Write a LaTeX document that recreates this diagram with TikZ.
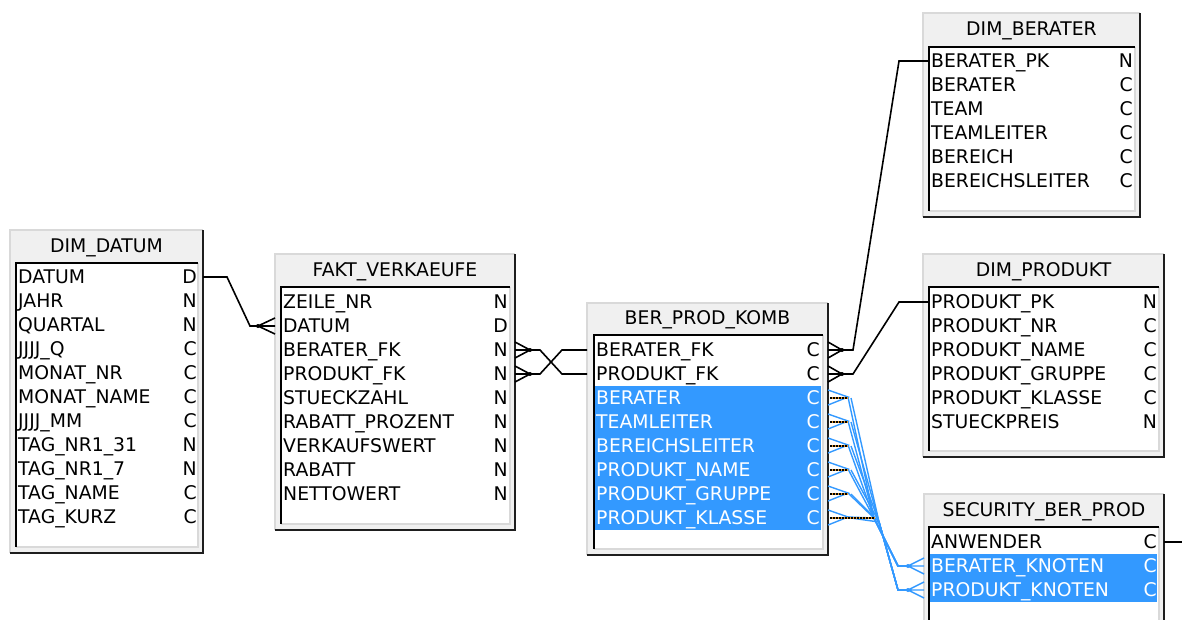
\documentclass[tikz,border=0pt]{standalone}
\usepackage{fontspec}
\setmainfont{DejaVu Sans}
\usetikzlibrary{calc}
\definecolor{hdr}{HTML}{F0F0F0}
\definecolor{lite}{HTML}{D9D9D9}
\definecolor{darkb}{HTML}{1E1E1E}
\definecolor{hl}{HTML}{3399FF}
\definecolor{selor}{HTML}{E89A2C}
\newcommand\tblframe[6]{%
  \fill[hdr] (#1,#2) rectangle (#3,#4);
  \draw[lite,line width=1.2pt] (#3,#2)--(#1,#2)--(#1,#4);
  \draw[darkb,line width=2pt] (#3,#2)--(#3,#4)--(#1,#4);
  \fill[white] (#5,#6) rectangle (#3-5,#4-6);
  \draw[lite,line width=1.2pt] (#3-5,#6)--(#3-5,#4-6)--(#5,#4-6);
  \draw[black,line width=2pt] (#3-5,#6)--(#5,#6)--(#5,#4-6);
}
\tikzset{
  rowtxt/.style={anchor=base west,inner sep=0pt,text=black},
  typetxt/.style={anchor=base east,inner sep=0pt,text=black},
  hltxt/.style={text=white},
  titletxt/.style={anchor=base,inner sep=0pt,text=black},
  conn/.style={draw=black,line width=1.6pt},
  bconn/.style={draw=hl,line width=1.4pt},
  seldot/.style={draw=selor,line width=1.8pt},
  seldash/.style={draw=black,line width=1.8pt,dash pattern=on 1.5pt off 1.5pt},
}
\begin{document}
\begin{tikzpicture}[x=1pt,y=-1pt,font=\fontsize{18.8}{21}\selectfont]
\useasboundingbox (0,0) rectangle (1182,619);
\fill[white] (0,0) rectangle (1182,619);
\clip (0,0) rectangle (1182,619);

% ---------------- DIM_DATUM
\tblframe{10}{230}{203}{553}{16}{263}
\node[titletxt] (dd-title) at (106.5,252.5) {DIM\_DATUM};
\foreach \t/\c [count=\i from 0] in {DATUM/D,JAHR/N,QUARTAL/N,JJJJ\_Q/C,MONAT\_NR/C,MONAT\_NAME/C,JJJJ\_MM/C,TAG\_NR1\_31/N,TAG\_NR1\_7/N,TAG\_NAME/C,TAG\_KURZ/C}{
  \node[rowtxt] (dd-\i) at (18,{283.5+24*\i}) {\t};
  \node[typetxt] (ddt-\i) at (197,{283.5+24*\i}) {\c};
}
\coordinate (ddR-0) at (203,277);

% ---------------- FAKT_VERKAEUFE
\tblframe{275}{254}{515}{530}{281}{287}
\node[titletxt] (fv-title) at (395,276.5) {FAKT\_VERKAEUFE};
\foreach \t/\c [count=\i from 0] in {ZEILE\_NR/N,DATUM/D,BERATER\_FK/N,PRODUKT\_FK/N,STUECKZAHL/N,RABATT\_PROZENT/N,VERKAUFSWERT/N,RABATT/N,NETTOWERT/N}{
  \node[rowtxt] (fv-\i) at (283,{308.5+24*\i}) {\t};
  \node[typetxt] (fvt-\i) at (508,{308.5+24*\i}) {\c};
}
\coordinate (fvL-1) at (275,326);
\coordinate (fvR-2) at (515,350);
\coordinate (fvR-3) at (515,374);

% ---------------- BER_PROD_KOMB
\tblframe{587}{303}{828}{555}{594}{335}
\fill[hl] (595,386) rectangle (821,530);
\node[titletxt] (bp-title) at (707.5,324.5) {BER\_PROD\_KOMB};
\foreach \t/\c [count=\i from 0] in {BERATER\_FK/C,PRODUKT\_FK/C}{
  \node[rowtxt] (bp-\i) at (596,{356.5+24*\i}) {\t};
  \node[typetxt] (bpt-\i) at (820,{356.5+24*\i}) {\c};
}
\foreach \t/\c [count=\i from 2] in {BERATER/C,TEAMLEITER/C,BEREICHSLEITER/C,PRODUKT\_NAME/C,PRODUKT\_GRUPPE/C,PRODUKT\_KLASSE/C}{
  \node[rowtxt,hltxt] (bp-\i) at (596,{356.5+24*\i}) {\t};
  \node[typetxt,hltxt] (bpt-\i) at (820,{356.5+24*\i}) {\c};
}
\coordinate (bpL-0) at (587,350);
\coordinate (bpL-1) at (587,374);
\coordinate (bpR-0) at (828,350);
\coordinate (bpR-1) at (828,374);

% ---------------- DIM_BERATER
\tblframe{923}{13}{1140}{217}{929}{47}
\node[titletxt] (db-title) at (1031.5,35.5) {DIM\_BERATER};
\foreach \t/\c [count=\i from 0] in {BERATER\_PK/N,BERATER/C,TEAM/C,TEAMLEITER/C,BEREICH/C,BEREICHSLEITER/C}{
  \node[rowtxt] (db-\i) at (931,{67.5+24*\i}) {\t};
  \node[typetxt] (dbt-\i) at (1133,{67.5+24*\i}) {\c};
}
\coordinate (dbL-0) at (929,61);

% ---------------- DIM_PRODUKT
\tblframe{923}{254}{1164}{457}{929}{287}
\node[titletxt] (dp-title) at (1043.5,276.5) {DIM\_PRODUKT};
\foreach \t/\c [count=\i from 0] in {PRODUKT\_PK/N,PRODUKT\_NR/C,PRODUKT\_NAME/C,PRODUKT\_GRUPPE/C,PRODUKT\_KLASSE/C,STUECKPREIS/N}{
  \node[rowtxt] (dp-\i) at (931,{308.5+24*\i}) {\t};
  \node[typetxt] (dpt-\i) at (1157,{308.5+24*\i}) {\c};
}
\coordinate (dpL-0) at (929,302);

% ---------------- SECURITY_BER_PROD
\tblframe{924}{494}{1164}{660}{929}{527}
\fill[hl] (930,554) rectangle (1157,602);
\node[titletxt] (sc-title) at (1044,516.5) {SECURITY\_BER\_PROD};
\node[rowtxt] (sc-0) at (931,548.5) {ANWENDER};
\node[typetxt] (sct-0) at (1157,548.5) {C};
\node[rowtxt,hltxt] (sc-1) at (931,572.5) {BERATER\_KNOTEN};
\node[typetxt,hltxt] (sct-1) at (1157,572.5) {C};
\node[rowtxt,hltxt] (sc-2) at (931,596.5) {PRODUKT\_KNOTEN};
\node[typetxt,hltxt] (sct-2) at (1157,596.5) {C};
\coordinate (scR-0) at (1164,542);
\coordinate (scL-1) at (924,566);
\coordinate (scL-2) at (924,590);
\coordinate (offR) at (1182,542);

% ================= connectors
% DIM_DATUM -> FAKT
\coordinate (cf1) at (258,326);
\draw[conn] (ddR-0) -- ++(24,0) -- (250,326) -- (cf1);
\draw[conn] (cf1) -- ($(fvL-1)+(0,-8)$) (cf1) -- (fvL-1) (cf1) -- ($(fvL-1)+(0,8)$);
\fill (cf1) circle (2pt);

% FAKT -> BER_PROD_KOMB (crossing)
\coordinate (cf2) at (530,350);
\coordinate (cf3) at (530,374);
\foreach \p/\e in {cf2/fvR-2,cf3/fvR-3}{
  \draw[conn] (\p) -- ($(\e)+(0,-8)$) (\p) -- (\e) (\p) -- ($(\e)+(0,8)$);
  \fill (\p) circle (2pt);
}
\draw[conn] (cf2) -- ++(10,0) -- (562,374) -- (bpL-1);
\draw[conn] (cf3) -- ++(10,0) -- (562,350) -- (bpL-0);

% BER_PROD_KOMB -> DIM_BERATER / DIM_PRODUKT
\coordinate (cf4) at (842,350);
\coordinate (cf5) at (842,374);
\foreach \p/\e in {cf4/bpR-0,cf5/bpR-1}{
  \draw[conn] (\p) -- ($(\e)+(0,-8)$) (\p) -- (\e) (\p) -- ($(\e)+(0,8)$);
  \fill (\p) circle (2pt);
}
\draw[conn] (cf4) -- (853,350) -- (899,61) -- (dbL-0);
\draw[conn] (cf5) -- (853,374) -- (899,302) -- (dpL-0);

% SECURITY outgoing
\draw[conn] (scR-0) -- (offR);

% selected (blue) relationships
\coordinate (bj1) at (874,518);
\coordinate (bj2) at (879,522);
\coordinate (cs1) at (908,566);
\coordinate (cs2) at (908,590);
\foreach \i in {0,...,5}{
  \coordinate (bpR-h\i) at (828,{398+24*\i});
  \draw[bconn] ($(bpR-h\i)+(0,-8)$) -- ($(bpR-h\i)+(20,-1)$) -- ($(bpR-h\i)+(0,7)$);
  \draw[bconn] ($(bpR-h\i)+(20,-1)$) -- (bj1) -- (898,566) -- (cs1);
  \draw[bconn] ($(bpR-h\i)+(23,0)$) -- (bj2) -- (898,590) -- (cs2);
}
\foreach \i in {0,...,4}{
  \draw[seldot] ($(bpR-h\i)+(2,0)$) -- ++(18,0);
  \draw[seldash] ($(bpR-h\i)+(2,0)$) -- ++(18,0);
}
\draw[seldot] ($(bpR-h5)+(2,0)$) -- ++(45,0);
\draw[seldash] ($(bpR-h5)+(2,0)$) -- ++(45,0);
\foreach \p/\e in {cs1/scL-1,cs2/scL-2}{
  \draw[bconn] (\p) -- ($(\e)+(0,-8)$) (\p) -- (\e) (\p) -- ($(\e)+(0,8)$);
  \fill[hl] (\p) circle (2pt);
}
\end{tikzpicture}
\end{document}
